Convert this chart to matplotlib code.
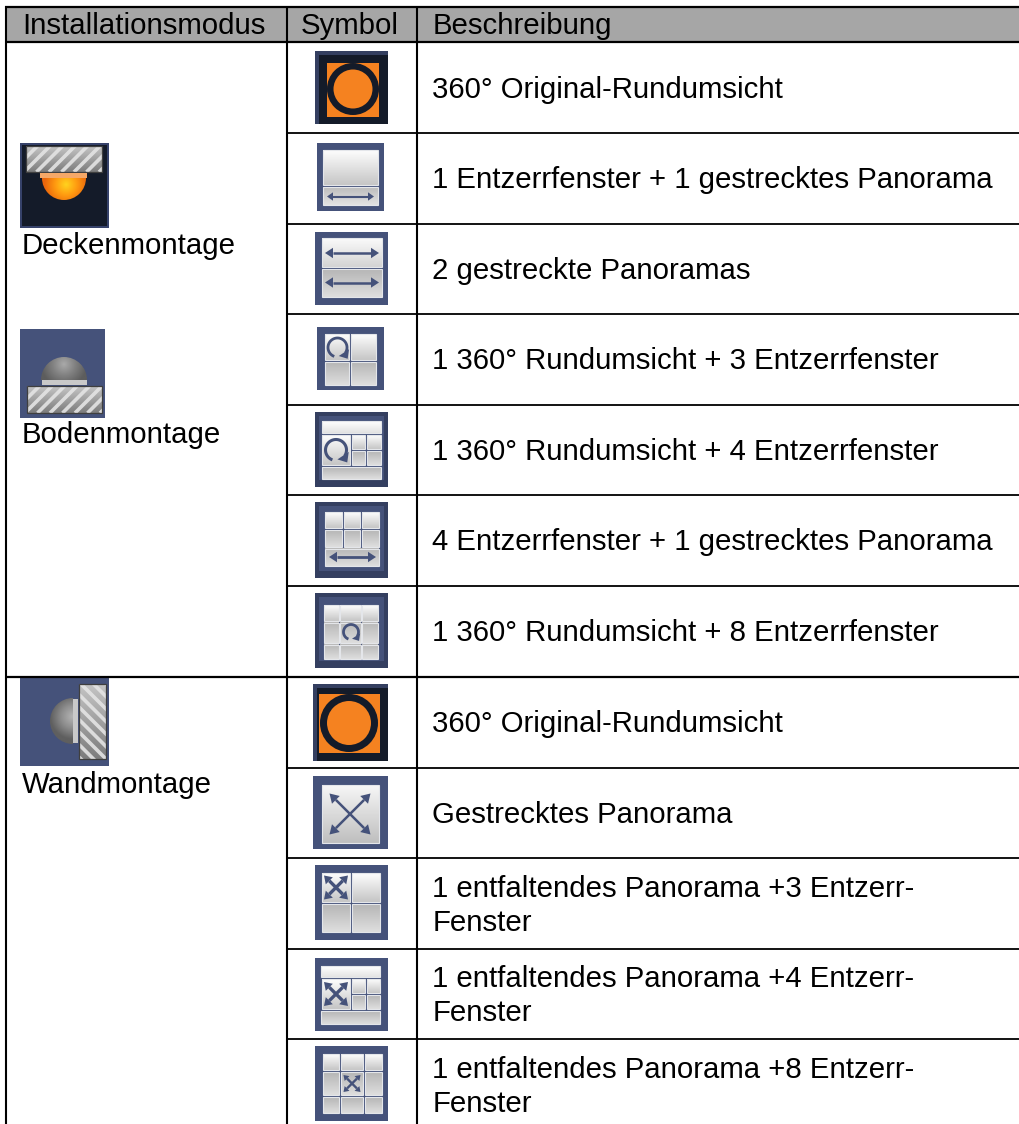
#!/usr/bin/env python
# table of camera install modes with their display-mode symbols
# everything is drawn in image pixels, y pointing down

import numpy as np
import matplotlib as mpl
mpl.use('Agg')
import matplotlib.pyplot as plt
from matplotlib.patches import Rectangle, Polygon, Circle

# table text
header_labels = ['Installationsmodus', 'Symbol', 'Beschreibung']
mount_labels = ['Deckenmontage', 'Bodenmontage', 'Wandmontage']
descriptions = [
    '360° Original-Rundumsicht',
    '1 Entzerrfenster + 1 gestrecktes Panorama',
    '2 gestreckte Panoramas',
    '1 360° Rundumsicht + 3 Entzerrfenster',
    '1 360° Rundumsicht + 4 Entzerrfenster',
    '4 Entzerrfenster + 1 gestrecktes Panorama',
    '1 360° Rundumsicht + 8 Entzerrfenster',
    '360° Original-Rundumsicht',
    'Gestrecktes Panorama',
    '1 entfaltendes Panorama +3 Entzerr-\nFenster',
    '1 entfaltendes Panorama +4 Entzerr-\nFenster',
    '1 entfaltendes Panorama +8 Entzerr-\nFenster',
]

# layout
W, H = 1019, 1124
row_lines = [132.7, 223.7, 313.7, 405, 495, 586, 676.7, 768, 857.7, 948.7, 1039.3]
desc_base = [97.7, 188, 278.7, 369, 460, 550, 641, 732, 823, 896.7, 986.7, 1078]
NAVY = '#45527a'
DARK = '#141b29'
BAND = '#343f60'
ORANGE = '#f58220'
LIGHT = ('#fdfdfd', '#c6c6c6')
MID = ('#b6b6b6', '#dedede')
TXT = 21.12

plt.rcParams['font.family'] = ['Liberation Sans', 'DejaVu Sans']

fig = plt.figure(figsize=(W / 100, H / 100), dpi=100)
ax = fig.add_axes([0, 0, 1, 1])
ax.set_xlim(0, W)
ax.set_ylim(H, 0)
ax.autoscale(False)
ax.axis('off')


def rect(x0, y0, x1, y1, color, z=2, **kw):
    p = Rectangle((x0, y0), x1 - x0, y1 - y0, facecolor=color, edgecolor='none', zorder=z, **kw)
    ax.add_patch(p)
    return p


def gradient(x0, y0, x1, y1, colors, z=3):
    cmap = mpl.colors.LinearSegmentedColormap.from_list('g', colors)
    return ax.imshow(np.linspace(0, 1, 32).reshape(-1, 1), cmap=cmap, extent=(x0, x1, y1, y0),
                     aspect='auto', zorder=z, interpolation='bilinear')


def panel(x0, y0, x1, y1, colors=LIGHT):
    gradient(x0, y0, x1, y1, colors)
    ax.add_patch(Rectangle((x0, y0), x1 - x0, y1 - y0, facecolor='none', edgecolor='#e4e6ea',
                           lw=0.8, zorder=4))


def base(x0, y0, x1, y1, band=False):
    rect(x0, y0, x1, y1, BAND if band else NAVY)
    if band:
        rect(x0 + 4, y0 + 4, x1 - 4, y1 - 7, NAVY)


def arrow(x0, y0, x1, y1, lw=2.0, head=8.0, half=5.0):
    # line with a filled head on both ends
    d = np.array([x1 - x0, y1 - y0], dtype=float)
    d /= np.hypot(*d)
    n = np.array([-d[1], d[0]])
    a, b = np.array([x0, y0]), np.array([x1, y1])
    ax.plot([x0 + d[0] * head, x1 - d[0] * head], [y0 + d[1] * head, y1 - d[1] * head],
            color=NAVY, lw=lw, solid_capstyle='butt', zorder=5)
    ax.add_patch(Polygon([a, a + d * head + n * half, a + d * head - n * half], facecolor=NAVY,
                         edgecolor='none', zorder=5))
    ax.add_patch(Polygon([b, b - d * head + n * half, b - d * head - n * half], facecolor=NAVY,
                         edgecolor='none', zorder=5))


def cross(cx, cy, r, lw=2.0, head=8.0, half=5.0):
    arrow(cx - r, cy - r, cx + r, cy + r, lw, head, half)
    arrow(cx - r, cy + r, cx + r, cy - r, lw, head, half)


def rotate(cx, cy, r, lw=2.0):
    # nearly closed circle with an arrow head at the lower right
    t = np.radians(np.linspace(-35, 250, 60))
    ax.plot(cx + r * np.cos(t), cy - r * np.sin(t), color=NAVY, lw=lw,
            solid_capstyle='butt', zorder=5)
    hx, hy = cx + r * np.cos(np.radians(35)), cy + r * np.sin(np.radians(35))
    s = r * 0.72
    ax.add_patch(Polygon([(hx + s * 0.55, hy - s * 0.55), (hx + s * 0.35, hy + s * 0.85),
                          (hx - s * 0.95, hy + s * 0.45)], facecolor=NAVY, edgecolor='none', zorder=5))


def orange_icon(x0, y0, x1, y1, ox0, oy0, ox1, oy1, cx, cy, ro, ri):
    rect(x0, y0, x1, y1, BAND)
    rect(x0 + 4, y0 + 4, x1, y1, DARK)
    rect(ox0, oy0, ox1, oy1, ORANGE, z=3)
    ax.add_patch(Circle((cx, cy), (ro + ri) / 2, facecolor='none', edgecolor=DARK,
                        lw=(ro - ri) * 0.72, zorder=4))


def hatch(x0, y0, x1, y1, angle_up=True):
    # striped concrete block of the mount icons
    gradient(x0, y0, x1, y1, ['#c4c4c4', '#7d7d7d'])
    clip = Rectangle((x0, y0), x1 - x0, y1 - y0, transform=ax.transData)
    span = (x1 - x0) + (y1 - y0)
    for off in np.arange(-span, span, 12.5):
        if angle_up:
            xs, ys = [x0 + off, x0 + off + span], [y1, y1 - span]
        else:
            xs, ys = [x0, x0 + span], [y0 + off, y0 + off + span]
        ln, = ax.plot(xs, ys, color='#e4e4e4', lw=2.6, alpha=0.9, zorder=4, solid_capstyle='butt')
        ln.set_clip_path(clip)
    ax.add_patch(Rectangle((x0, y0), x1 - x0, y1 - y0, facecolor='none', edgecolor='#3f3f3f',
                           lw=0.9, zorder=5))


def dome(cx, cy, r, colors, direction, hot=None):
    # half disc with a radial fill, clipped with a wedge
    ext = (cx - r, cx + r, cy + r, cy - r)
    yy, xx = np.mgrid[-1:1:64j, -1:1:64j]
    val = np.clip(np.hypot(xx - hot[0], yy - hot[1]), 0, 1)
    cmap = mpl.colors.LinearSegmentedColormap.from_list('d', colors)
    im = ax.imshow(val, cmap=cmap, extent=ext, aspect='auto', zorder=5, interpolation='bilinear')
    theta = {'down': (0, 180), 'up': (180, 360), 'left': (90, 270)}[direction]
    clip = mpl.patches.Wedge((cx, cy), r, theta[0], theta[1], transform=ax.transData)
    im.set_clip_path(clip)


# header band and grid
rect(6, 7, W, 41.7, '#a6a6a6', z=1)
ax.hlines([7, 41.7, 676.7], 5, W, color='black', lw=1.6, zorder=6)
ax.hlines(row_lines, 287, W, color='black', lw=1.3, zorder=6)
ax.vlines([6, 287, 417], 6, H, color='black', lw=1.5, zorder=6)

# header and text
for x, label in zip([22, 301, 432.5], header_labels):
    ax.text(x, 34, label, fontsize=TXT, va='baseline', ha='left', color='black', zorder=7)
for y, label in zip([254, 443, 793], mount_labels):
    ax.text(22, y, label, fontsize=TXT, va='baseline', ha='left', color='black', zorder=7)
for y, label in zip(desc_base, descriptions):
    parts = label.split('\n')
    for i, part in enumerate(parts):
        ax.text(432.5, y + i * 34, part, fontsize=TXT, va='baseline', ha='left', color='black', zorder=7)

# mount icons
rect(20, 143, 109, 228, '#36426a')
rect(22, 145, 107, 226, DARK, z=2.5)
hatch(26, 146, 102, 172)
rect(40, 173, 87, 178, '#f5a868', z=5)
dome(64, 178, 22, ['#ffd21e', '#ff9a10', '#e9650c'], 'down', hot=(0.1, 0.3))

rect(20, 329, 105, 418, NAVY)
hatch(27, 386, 102, 413)
rect(42, 380, 87, 385, '#c9c9c9', z=5)
dome(64, 380, 23, ['#a8a8a8', '#808080', '#5d5d5d'], 'up', hot=(0.0, -0.7))

rect(20, 677, 109, 766, NAVY)
hatch(79, 684, 106, 759, angle_up=False)
rect(73, 699, 78, 743, '#c9c9c9', z=5)
dome(73, 721, 23, ['#b4b4b4', '#8e8e8e', '#5f5f5f'], 'left', hot=(0.0, -0.2))

# symbols, rows top to bottom
orange_icon(315, 51, 388, 124, 327, 63, 379, 117, 353, 89, 26, 19.5)

base(317, 143, 384, 211)
panel(323, 150, 378, 185)
panel(323, 187, 378, 205, ('#bdbdbd', '#e2e2e2'))
arrow(327, 196.5, 374, 196.5, lw=1.5, head=6, half=4.2)

base(315, 232, 388, 305)
panel(322, 238, 382, 267, ('#fafafa', '#d4d4d4'))
panel(322, 269, 382, 297, MID)
arrow(325, 253, 379, 253, lw=1.8, head=8, half=5.2)
arrow(325, 282.5, 379, 282.5, lw=1.8, head=8, half=5.2)

base(317, 327, 384, 390)
panel(325.5, 334, 349.5, 360)
panel(351.5, 334, 376, 360)
panel(325.5, 362, 349.5, 385, MID)
panel(351.5, 362, 376, 385, MID)
rotate(337.5, 347.5, 9.5)

base(315, 412, 388, 487, band=True)
panel(322, 421, 381, 433, ('#ffffff', '#e2e2e2'))
panel(322, 435, 350, 465)
panel(352, 435, 365, 449)
panel(367, 435, 381, 449)
panel(352, 451, 365, 465, MID)
panel(367, 451, 381, 465, MID)
panel(322, 467, 381, 479, MID)
rotate(336, 450, 10.5, lw=2.2)

base(315, 502, 388, 578, band=True)
for x0, x1 in [(325.5, 342), (344, 360), (362, 379)]:
    panel(x0, 512, x1, 528)
    panel(x0, 530, x1, 547, MID)
panel(325.5, 548.5, 379, 566, MID)
arrow(329, 557, 376, 557, lw=2.0, head=8, half=5.2)

base(315, 593, 388, 668, band=True)
for x0, x1 in [(324, 339), (340.5, 361), (362.5, 378)]:
    panel(x0, 605, x1, 621)
    panel(x0, 622.5, x1, 643, MID)
    panel(x0, 644.5, x1, 659, MID)
rotate(351, 632, 7.5)

orange_icon(313, 684, 388, 761, 319, 694, 380, 753, 349, 723, 29, 22)

base(313, 776, 388, 849)
panel(322, 785, 379, 843, ('#f6f6f6', '#bfbfbf'))
cross(350, 814, 20.5, lw=1.8, head=9, half=5.5)

base(315, 865, 388, 940)
panel(322, 873, 350, 902)
panel(352, 873, 380, 902)
panel(322, 904, 350, 932, MID)
panel(352, 904, 380, 932, MID)
cross(336, 887.5, 12, lw=2.4, head=7.5, half=5)

base(315, 958, 388, 1031)
panel(321, 966, 380, 977, ('#ffffff', '#e4e4e4'))
panel(322, 979, 350, 1009)
panel(352, 979, 365, 993)
panel(367, 979, 380, 993)
panel(352, 995, 365, 1009, MID)
panel(367, 995, 380, 1009, MID)
panel(321, 1011, 380, 1024, MID)
cross(336, 994, 12, lw=2.4, head=7.5, half=5)

base(315, 1046, 388, 1121)
for x0, x1 in [(323, 339), (341, 363), (365, 382)]:
    panel(x0, 1054, x1, 1070)
    panel(x0, 1072, x1, 1095, MID)
    panel(x0, 1097, x1, 1113, MID)
cross(352, 1083.5, 8.5, lw=1.7, head=5, half=3.4)

fig.savefig('out.png', dpi=100, facecolor='white')
